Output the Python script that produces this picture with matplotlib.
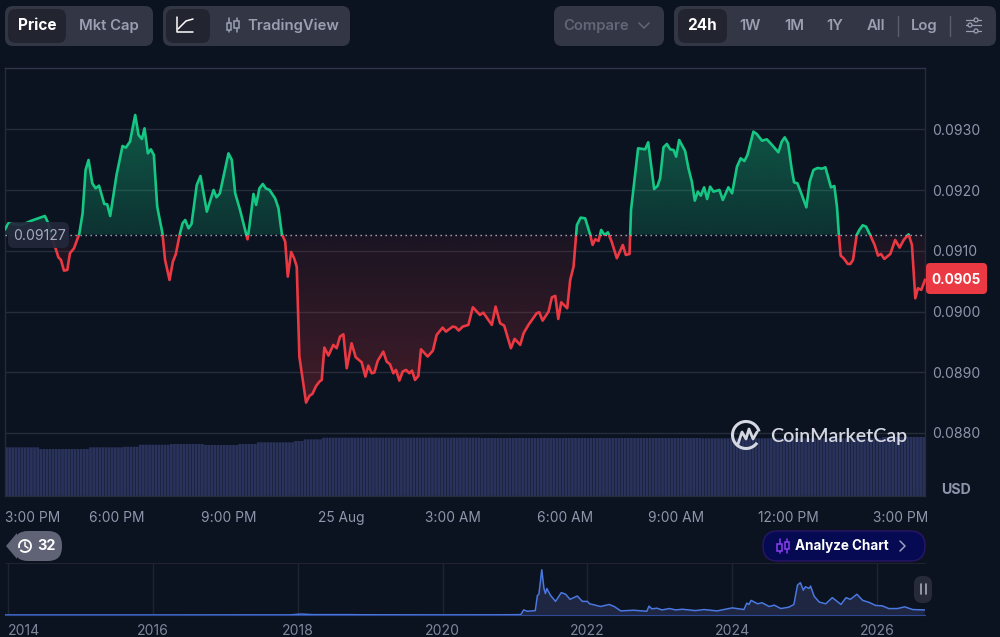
import numpy as np
import matplotlib
matplotlib.use("Agg")
import matplotlib.pyplot as plt
from matplotlib.patches import FancyBboxPatch, Rectangle, Circle, Arc, Polygon
from matplotlib.path import Path

plt.rcParams['font.family'] = ['Inter', 'DejaVu Sans']

BG = '#0b1220'
GREEN = '#16c784'
RED = '#ea3943'
BASE_PRICE = 0.09127
LAST_PRICE = '0.0905'

# hours since 3:00 PM, price in USD
hours = [0, .09, .22, .45, .71, 1.07, 1.16, 1.25, 1.37, 1.43, 1.50, 1.58, 1.67, 1.74, 1.85, 1.99, 2.08, 2.16, 2.24,
         2.34, 2.43, 2.52, 2.66, 2.74, 2.82, 2.99, 3.15, 3.24, 3.35, 3.49, 3.58, 3.67, 3.74, 3.83, 3.91, 3.99, 4.08,
         4.22, 4.29, 4.41, 4.50, 4.58, 4.69, 4.76, 4.83, 4.92, 5.00, 5.14, 5.24, 5.41, 5.59, 5.67, 5.76, 5.99, 6.08,
         6.17, 6.30, 6.45, 6.50, 6.55, 6.66, 6.73, 6.82, 6.91, 6.99, 7.09, 7.24, 7.33, 7.42, 7.51, 7.58, 7.67, 7.75,
         7.82, 7.89, 8.07, 8.16, 8.24, 8.34, 8.43, 8.49, 8.56, 8.67, 8.80, 8.89, 8.98, 9.07, 9.16, 9.29, 9.40, 9.56,
         9.66, 9.74, 9.83, 9.90, 9.99, 10.14, 10.23, 10.32, 10.41, 10.48, 10.57, 10.66, 10.75, 10.84, 10.91, 10.99,
         11.08, 11.15, 11.33, 11.47, 11.57, 11.73, 11.82, 12.00, 12.08, 12.16, 12.27, 12.42, 12.54, 12.73, 12.82,
         13.05, 13.15, 13.27, 13.38, 13.56, 13.66, 13.81, 13.90, 14.03, 14.25, 14.32, 14.41, 14.57, 14.66, 14.75,
         14.83, 14.91, 15.07, 15.15, 15.24, 15.31, 15.33, 15.43, 15.55, 15.68, 15.75, 15.82, 15.91, 15.98, 16.07,
         16.16, 16.26, 16.40, 16.56, 16.64, 16.74, 16.78, 16.97, 17.16, 17.24, 17.40, 17.49, 17.56, 17.65, 17.74,
         17.83, 17.92, 17.99, 18.07, 18.23, 18.32, 18.41, 18.49, 18.57, 18.65, 18.74, 18.82, 18.90, 18.99, 19.15,
         19.24, 19.39, 19.49, 19.62, 19.72, 19.82, 19.90, 20.06, 20.15, 20.29, 20.42, 20.56, 20.73, 20.82, 20.90,
         20.99, 21.09, 21.15, 21.24, 21.36, 21.48, 21.57, 21.67, 21.78, 21.90, 21.99, 22.14, 22.23, 22.30, 22.35,
         22.40, 22.48, 22.59, 22.66, 22.73, 22.83, 22.90, 22.99, 23.08, 23.19, 23.31, 23.40, 23.48, 23.57, 23.73,
         23.86, 23.98, 24.09, 24.22, 24.31, 24.40, 24.47, 24.56, 24.66]
prices = [.091356, .091455, .091444, .091427, .091498, .091575, .091455, .091235, .091015, .090895, .090851, .090675,
          .090686, .090960, .091043, .091279, .091619, .092333, .092498, .092113, .092031, .092075, .091773, .091767,
          .091575, .092251, .092728, .092701, .092800, .093239, .092909, .092844, .093019, .092607, .092673, .092580,
          .091729, .091290, .090851, .090521, .090823, .090949, .091290, .091455, .091509, .091372, .091444, .092086,
          .092234, .091647, .092004, .091883, .091949, .092607, .092498, .091949, .091674, .091317, .091191, .091400,
          .091938, .091757, .092031, .092102, .092031, .092004, .091866, .091702, .091279, .091153, .090576, .090982,
          .090878, .090741, .089259, .088501, .088611, .088644, .088775, .088847, .088874, .089407, .089275, .089451,
          .089396, .089588, .089626, .089066, .089478, .089248, .089165, .088929, .089110, .088984, .088995, .089187,
          .089341, .089176, .089132, .088984, .089039, .088863, .089012, .089039, .088984, .089028, .088874, .088940,
          .089379, .089259, .089357, .089615, .089736, .089670, .089753, .089742, .089687, .089753, .089780, .090071,
          .089945, .089983, .089780, .090082, .089808, .089769, .089396, .089550, .089451, .089643, .089780, .089972,
          .089989, .089851, .090000, .090236, .090258, .089879, .090153, .090055, .090521, .090741, .091279, .091427,
          .091548, .091537, .091279, .091098, .091191, .091164, .091345, .091262, .091306, .091153, .090878, .091098,
          .090933, .090949, .091674, .092690, .092673, .092789, .092020, .092069, .092196, .092706, .092761, .092673,
          .092662, .092553, .092827, .092646, .092360, .092141, .091828, .091976, .091910, .092047, .091855, .092058,
          .091976, .092004, .091839, .092047, .091949, .092388, .092525, .092481, .092580, .092964, .092926, .092816,
          .092838, .092745, .092624, .092800, .092871, .092772, .092333, .092130, .092113, .091921, .091718, .092141,
          .092333, .092366, .092355, .092377, .092047, .092069, .091729, .091279, .090922, .090878, .090785, .090785,
          .090851, .091262, .091345, .091422, .091400, .091262, .091098, .090922, .090949, .090867, .090949, .091180,
          .091054, .091180, .091273, .091098, .090219, .090384, .090357, .090521]

# 24h volume in millions of USD, in runs of equal 5 minute bars
vol_levels = [487, 470, 487, 493, 513, 520, 510, 520, 537, 550, 567, 583, 580, 577, 590]
vol_runs = [11, 16, 11, 5, 10, 11, 11, 6, 12, 3, 6, 51, 71, 58, 14]

# all time history for the navigator
nav_years = [2013.96, 2016.0, 2017.9, 2018.05, 2018.2, 2018.7, 2018.9, 2020.0, 2020.6, 2020.80, 2021.08, 2021.12,
             2021.17, 2021.28, 2021.31, 2021.33, 2021.37, 2021.40, 2021.42, 2021.44, 2021.49, 2021.56, 2021.64,
             2021.70, 2021.76, 2021.86, 2021.93, 2022.00, 2022.03, 2022.09, 2022.18, 2022.30, 2022.37, 2022.46,
             2022.64, 2022.82, 2022.85, 2022.89, 2022.96, 2023.03, 2023.13, 2023.22, 2023.31, 2023.49, 2023.61,
             2023.79, 2023.93, 2024.00, 2024.16, 2024.20, 2024.23, 2024.26, 2024.35, 2024.41, 2024.51, 2024.58,
             2024.67, 2024.78, 2024.85, 2024.90, 2024.94, 2024.98, 2025.01, 2025.06, 2025.08, 2025.13, 2025.20,
             2025.29, 2025.38, 2025.43, 2025.50, 2025.57, 2025.63, 2025.72, 2025.80, 2025.89, 2025.98, 2026.07,
             2026.16, 2026.28, 2026.38, 2026.49, 2026.65]
nav_prices = [.0003, .0003, .002, .015, .006, .006, .004, .002, .003, .003, .006, .082, .060, .071, .318, .335, .730,
              .428, .346, .428, .318, .220, .362, .335, .253, .307, .220, .220, .181, .165, .137, .170, .137, .066,
              .077, .060, .143, .099, .110, .082, .104, .082, .093, .071, .088, .066, .099, .115, .088, .192, .170,
              .236, .181, .198, .137, .159, .104, .126, .170, .483, .522, .401, .456, .428, .467, .302, .209, .181,
              .280, .236, .170, .280, .253, .335, .236, .203, .154, .148, .104, .104, .132, .088, .082]

price_ticks = [0.0880, 0.0890, 0.0900, 0.0910, 0.0920, 0.0930]
hour_ticks = [0, 3, 6, 9, 12, 15, 18, 21, 24]
hour_labels = ['3:00 PM', '6:00 PM', '9:00 PM', '25 Aug', '3:00 AM', '6:00 AM', '9:00 AM', '12:00 PM', '3:00 PM']
nav_ticks = [2014, 2016, 2018, 2020, 2022, 2024, 2026]


def px_rect(left, top, right, bottom):
    return [left / 1000, 1 - bottom / 637, (right - left) / 1000, (bottom - top) / 637]


fig = plt.figure(figsize=(10, 6.37), dpi=100, facecolor=BG)

# volume bars sit behind the price
ax_vol = fig.add_axes(px_rect(5, 68, 925, 496), zorder=0)
volume = np.repeat(vol_levels, vol_runs)
bar_x = (np.arange(len(volume)) + 0.5) * 5 / 60
bars = ax_vol.bar(bar_x, volume, width=5 / 60 * 0.88, color='#2a335b', linewidth=0)
for bar in bars:
    bar.set_snap(False)
ax_vol.set_xlim(0, 24.66)
ax_vol.set_ylim(0, 4280)
ax_vol.axis('off')

ax = fig.add_axes(px_rect(5, 68, 925, 496), zorder=1)
ax.patch.set_visible(False)
x = np.array(hours)
y = np.array(prices)
xlim = (0, 24.66)
ylim = (0.086962, 0.094013)


def gradient_fill(where, rgb, alpha_top, alpha_bottom, y_top, y_bottom):
    coll = ax.fill_between(x, y, BASE_PRICE, where=where, interpolate=True)
    clip = Path.make_compound_path(*coll.get_paths())
    coll.remove()
    img = np.zeros((256, 1, 4))
    img[:, 0, :3] = np.array(rgb) / 255
    img[:, 0, 3] = np.linspace(alpha_top, alpha_bottom, 256)
    im = ax.imshow(img, extent=(xlim[0], xlim[1], y_bottom, y_top), aspect='auto', zorder=1, origin='upper')
    im.set_clip_path(clip, transform=ax.transData)


gradient_fill(y >= BASE_PRICE, (22, 199, 132), 0.40, 0.18, 0.0933, BASE_PRICE)
gradient_fill(y <= BASE_PRICE, (234, 57, 67), 0.07, 0.25, BASE_PRICE, 0.0885)

up_line, = ax.plot(x, y, color=GREEN, lw=1.9, zorder=3, solid_joinstyle='round')
up_line.set_clip_path(Rectangle((0, BASE_PRICE), 30, 1, transform=ax.transData))
down_line, = ax.plot(x, y, color=RED, lw=1.9, zorder=3, solid_joinstyle='round')
down_line.set_clip_path(Rectangle((0, 0), 30, BASE_PRICE, transform=ax.transData))

ax.axhline(BASE_PRICE, color='#aab0c0', lw=1, ls=(0, (1, 2.6)), zorder=4)
ax.set_xlim(*xlim)
ax.set_ylim(*ylim)
ax.grid(axis='y', color='#272c3a', lw=1)
ax.set_axisbelow(True)
ax.yaxis.tick_right()
ax.set_yticks(price_ticks)
ax.set_yticklabels(['%.4f' % v for v in price_ticks])
ax.set_xticks(hour_ticks)
ax.set_xticklabels(hour_labels)
ax.get_xticklabels()[0].set_ha('left')
ax.tick_params(axis='y', length=0, pad=5, labelsize=10.1, labelcolor='#8f96ab')
ax.tick_params(axis='x', length=0, pad=10.5, labelsize=9.9, labelcolor='#8f96ab')
for spine in ax.spines.values():
    spine.set_color('#262b39')
    spine.set_linewidth(1)
ax.spines['top'].set_color('#30354a')

# navigator
nav = fig.add_axes(px_rect(5, 563, 925, 615), zorder=1)
nav.patch.set_visible(False)
nav.fill_between(nav_years, nav_prices, 0, color='#1f2642', lw=0)
nav.plot(nav_years, nav_prices, color='#4a78e0', lw=1.1)
nav.set_xlim(2013.96, 2026.66)
nav.set_ylim(0, 0.84)
nav.set_yticks([])
nav.set_xticks(nav_ticks)
nav.set_xticklabels([str(t) for t in nav_ticks])
nav.get_xticklabels()[0].set_ha('left')
nav.tick_params(axis='x', length=0, pad=6.5, labelsize=10.1, labelcolor='#80869a')
nav.grid(axis='x', color='#20242f', lw=1)
nav.set_axisbelow(True)
for name, spine in nav.spines.items():
    spine.set_color('#20242f')
nav.spines['left'].set_visible(False)
nav.spines['right'].set_visible(False)
nav.spines['bottom'].set_color('#2e4a96')

# buttons and labels, laid out in pixels on top of the charts
ui = fig.add_axes([0, 0, 1, 1], zorder=5)
ui.patch.set_visible(False)
ui.set_xlim(0, 1000)
ui.set_ylim(637, 0)
ui.axis('off')


def box(left, top, right, bottom, color, r=8, edge='none', lw=0, alpha=None):
    ui.add_patch(FancyBboxPatch((left, top), right - left, bottom - top, boxstyle='round,pad=0,rounding_size=%g' % r,
                                fc=color, ec=edge, lw=lw, alpha=alpha))


def label(px, py, s, color='#9a9fb2', size=10.7, weight='normal', ha='center', **kw):
    ui.text(px, py, s, color=color, fontsize=size, fontweight=weight, ha=ha, va='center', **kw)


def stroke(xs, ys, color='#9a9fb2', lw=1.1):
    ui.plot(xs, ys, color=color, lw=lw, solid_capstyle='round', solid_joinstyle='round')


def candle_icon(cx, cy, color, fill=BG):
    for dx, off in ((-4, 1), (3.5, -1)):
        stroke([cx + dx, cx + dx], [cy - 7, cy + 7], color)
        ui.add_patch(Rectangle((cx + dx - 2.3, cy - 3.5 + off), 4.6, 7, fc=fill, ec=color, lw=1.1, zorder=3))


PILL = '#333645'
ACTIVE = '#22242f'
box(5, 6, 153, 46, PILL)
box(8, 9, 66, 43, ACTIVE)
label(37, 25.5, 'Price', '#ffffff', size=11, weight='bold')
label(109, 26, 'Mkt Cap', '#9a9fb2', weight='semibold')
box(163, 6, 350, 46, PILL)
box(166, 9, 210, 43, ACTIVE)
stroke([177, 177, 193], [17, 32, 32], '#ffffff')
stroke([178, 182, 186, 193], [29, 25, 21, 19], '#ffffff')
candle_icon(233, 25, '#9a9fb2', PILL)
label(293, 26, 'TradingView', '#9a9fb2', weight='semibold')
box(554, 6, 664, 46, PILL)
label(596.5, 26, 'Compare', '#626778', weight='semibold')
stroke([639, 644, 649], [23, 28, 23], '#626778')
box(674, 6, 996, 46, PILL)
box(678, 9, 727, 43, ACTIVE)
label(702, 25.5, '24h', '#ffffff', size=11, weight='bold')
for px, s in ((750, '1W'), (794, '1M'), (835, '1Y'), (876, 'All'), (924, 'Log')):
    label(px, 26, s, '#9a9fb2', weight='semibold')
for px in (898, 950):
    stroke([px, px], [16, 36], '#5a5e6e', 1)
for py, cx in ((20, 976), (25, 970), (31, 976)):
    stroke([966, 981], [py, py], '#9a9fb2', 0.9)
    ui.add_patch(Circle((cx, py), 2, fc=PILL, ec='#9a9fb2', lw=0.9, zorder=3))

# base price tag and last price tag
box(8, 222, 69, 248, '#22283a', r=6, alpha=0.92)
label(39, 235.5, '0.09127', '#a4aabd', size=10.1)
box(926, 263, 987, 294, '#ea3943', r=4)
label(956, 279.5, LAST_PRICE, '#ffffff', weight='bold', size=9.7)
label(956.5, 490.5, 'USD', '#8f96ab', weight='bold', size=10.2)

# CoinMarketCap watermark
ui.add_patch(Arc((746, 435), 27, 27, theta1=35, theta2=345, ec='#d5d8e2', lw=2.2))
stroke([738, 742, 746, 749, 753, 757], [444, 432, 439, 429, 439, 432], '#d5d8e2', 2)
label(770, 436.5, 'CoinMarketCap', '#d5d8e2', size=14.1, weight='semibold', ha='left', family=['Lato', 'DejaVu Sans'])

# history badge
ui.add_patch(Polygon([(6, 546), (17, 533), (17, 559)], fc='#5f6375', ec='none'))
box(14, 531, 62, 561, '#5f6375', r=14)
ui.add_patch(Arc((25, 546), 12, 12, theta1=-200, theta2=140, ec='#ffffff', lw=1.3))
stroke([25, 25, 28], [542, 546, 548], '#ffffff', 1.1)
label(46, 546, '32', '#ffffff', size=10.4, weight='bold')

# analyze chart pill
box(763, 531, 925, 561, '#050a52', r=15, edge='#2a1668', lw=1)
candle_icon(783.5, 546, '#8a3ff0', '#050a52')
label(842, 546, 'Analyze Chart', '#ffffff', weight='bold', size=9.7)
stroke([900, 905, 900], [541, 546, 551], '#9a9fc2')

# navigator handle
box(914, 576, 932, 603, '#272b38', r=8)
stroke([921, 921], [584, 594], '#a4a9b8', 1.2)
stroke([926, 926], [584, 594], '#a4a9b8', 1.2)

fig.savefig('out.png', dpi=100, facecolor=BG)
